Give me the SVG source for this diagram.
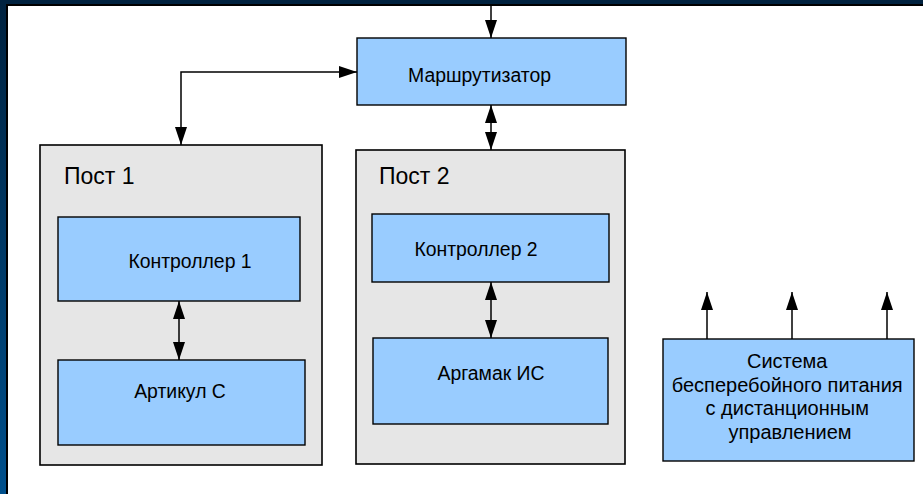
<svg xmlns="http://www.w3.org/2000/svg" width="923" height="494" viewBox="0 0 923 494">
<defs>
<linearGradient id="frameG" x1="0" y1="0" x2="0" y2="1">
<stop offset="0" stop-color="#00223f"/>
<stop offset="1" stop-color="#00508c"/>
</linearGradient>
<marker id="ah" viewBox="0 0 18 12" refX="18" refY="6" markerWidth="18" markerHeight="12" markerUnits="userSpaceOnUse" orient="auto-start-reverse">
<path d="M0,0 L18,6 L0,12 z" fill="#000"/>
</marker>
<style>
.post{fill:#e6e6e6;stroke:#000;stroke-width:1.6}
.box{fill:#99ccff;stroke:#000;stroke-width:1.4}
.t{font-family:"Liberation Sans",Arial,sans-serif;fill:#000}
.c{stroke:#000;stroke-width:1.5;fill:none}
</style>
</defs>
<rect x="0" y="0" width="923" height="494" fill="#fff"/>
<rect x="0" y="0" width="6" height="494" fill="url(#frameG)"/>
<rect x="0" y="0" width="923" height="4" fill="#00223f"/>
<rect x="6" y="4" width="2" height="490" fill="#000"/>
<rect x="6" y="4" width="917" height="2" fill="#000"/>

<g id="post1">
<rect class="post" x="40" y="145" width="282" height="320"/>
<text class="t" x="64" y="184" font-size="23">Пост 1</text>
</g>
<g id="post2">
<rect class="post" x="356" y="150" width="269" height="314"/>
<text class="t" x="379" y="184" font-size="23">Пост 2</text>
</g>
<g id="router">
<rect class="box" x="357" y="38" width="269" height="67"/>
<text class="t" x="479.5" y="82" font-size="19.4" text-anchor="middle">Маршрутизатор</text>
</g>
<g id="controller1">
<rect class="box" x="58" y="217" width="242" height="84"/>
<text class="t" x="190" y="268" font-size="19.4" text-anchor="middle">Контроллер 1</text>
</g>
<g id="artikul">
<rect class="box" x="58" y="360" width="247" height="85"/>
<text class="t" x="180" y="398" font-size="19.4" text-anchor="middle">Артикул С</text>
</g>
<g id="controller2">
<rect class="box" x="372" y="214" width="237" height="68"/>
<text class="t" x="476" y="256" font-size="19.4" text-anchor="middle">Контроллер 2</text>
</g>
<g id="argamak">
<rect class="box" x="373" y="338" width="235" height="86"/>
<text class="t" x="491" y="380" font-size="19.4" text-anchor="middle">Аргамак ИС</text>
</g>
<g id="ups">
<rect class="box" x="663" y="339" width="251" height="122"/>
<text class="t" font-size="20" text-anchor="middle">
<tspan x="790" y="368">Система</tspan>
<tspan x="790" y="392">бесперебойного питания</tspan>
<tspan x="790" y="415">с дистанционным</tspan>
<tspan x="790" y="439">управлением</tspan>
</text>
</g>

<g id="connectors">
<path class="c" d="M491,6 V38" marker-end="url(#ah)"/>
<path class="c" d="M491,105 V150" marker-start="url(#ah)" marker-end="url(#ah)"/>
<path class="c" d="M357,72 H181 V145" marker-start="url(#ah)" marker-end="url(#ah)"/>
<path class="c" d="M179,301 V360" marker-start="url(#ah)" marker-end="url(#ah)"/>
<path class="c" d="M491,282 V338" marker-start="url(#ah)" marker-end="url(#ah)"/>
<path class="c" d="M707,339 V292" marker-end="url(#ah)"/>
<path class="c" d="M792,339 V292" marker-end="url(#ah)"/>
<path class="c" d="M887,339 V292" marker-end="url(#ah)"/>
</g>
</svg>
